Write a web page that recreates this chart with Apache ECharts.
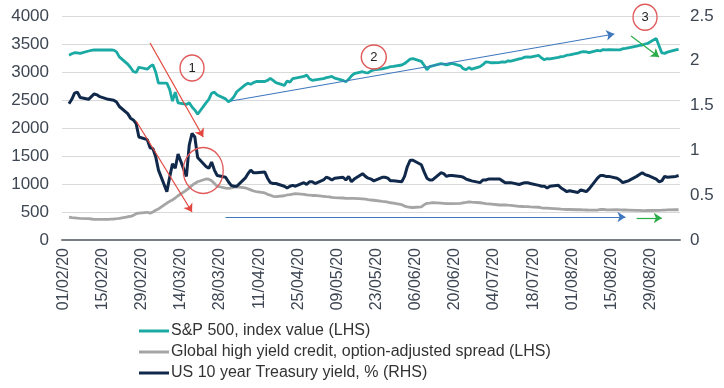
<!DOCTYPE html>
<html>
<head>
<meta charset="utf-8">
<script src="https://cdn.jsdelivr.net/npm/echarts@6/dist/echarts.min.js"></script>
<style>
html,body{margin:0;padding:0;background:#fff;}
#chart{width:724px;height:388px;}
</style>
</head>
<body>
<div id="chart"></div>
<script>
// Calendar axis: 01/02/2020 .. 08/09/2020 (daily), values on weekdays only
const startDateUTC = Date.UTC(2020, 1, 1);
const dayCount = 221;

// S&P 500 index value (LHS), weekdays, week by week
const spx = [
  3300,3325,3345,3340,3333,
  3375,3385,3393,3393,3393,
  3393,3393,3390,3360,3270,
  3140,3080,3010,2990,3085,
  3050,3100,3130,3000,2800,
  2800,2690,2480,2640,2450,
  2420,2450,2375,2320,2245,
  2450,2510,2620,2640,2590,
  2520,2470,2500,2560,2648,
  2770,2800,2780,2810,2830,
  2830,2850,2887,2850,2810,
  2760,2840,2820,2880,2890,
  2920,2946,2880,2850,2860,
  2880,2900,2910,2920,2890,
  2850,2827,2870,2930,2970,
  3005,2990,2985,3020,3036,
  3055,3070,3080,3095,3100,
  3125,3150,3190,3230,3240,
  3190,3120,3040,3095,3110,
  3150,3140,3125,3140,3155,
  3110,3060,3040,3080,3050,
  3095,3130,3180,3175,3165,
  3170,3180,3175,3200,3195,
  3235,3245,3265,3270,3265,
  3295,3250,3220,3240,3235,
  3260,3275,3280,3300,3305,
  3335,3355,3363,3360,3345,
  3385,3375,3400,3395,3400,
  3395,3395,3415,3420,3430,
  3460,3475,3482,3500,3512,
  3600,3470,3340,3333,3355,
  3395,3405
];

// Global high yield credit OAS (LHS)
const hySpread = [
  410,400,395,390,387,
  380,375,370,369,369,
  369,372,375,380,387,
  415,420,440,470,480,
  495,480,500,530,555,
  660,690,715,750,790,
  890,930,975,1010,1040,
  1090,1085,1060,1010,960,
  925,920,930,945,950,
  930,915,895,875,865,
  840,815,800,780,775,
  790,804,810,820,830,
  815,804,800,795,795,
  780,774,770,760,755,
  750,745,745,744,744,
  735,728,720,714,710,
  690,685,675,665,660,
  630,605,590,585,580,
  590,630,655,660,666,
  660,655,650,650,650,
  655,665,670,680,675,
  665,660,650,645,640,
  625,625,625,622,620,
  600,598,595,595,592,
  585,575,570,568,566,
  555,550,548,545,545,
  540,540,538,536,532,
  535,545,545,540,538,
  540,538,536,536,535,
  530,528,525,525,527,
  528,530,532,535,538,
  540,540
];

// US 10 year Treasury yield, % (RHS)
const ust10 = [
  1.52,1.57,1.64,1.65,1.59,
  1.57,1.60,1.63,1.62,1.60,
  1.57,1.565,1.56,1.54,1.49,
  1.41,1.36,1.34,1.30,1.15,
  1.12,1.03,1.02,0.93,0.78,
  0.54,0.70,0.85,0.80,0.96,
  0.71,1.06,1.19,1.15,0.92,
  0.82,0.80,0.87,0.78,0.72,
  0.70,0.65,0.61,0.60,0.60,
  0.69,0.74,0.78,0.75,0.75,
  0.76,0.69,0.64,0.63,0.63,
  0.60,0.58,0.60,0.61,0.60,
  0.64,0.62,0.65,0.65,0.63,
  0.67,0.70,0.69,0.67,0.69,
  0.70,0.67,0.71,0.65,0.68,
  0.74,0.71,0.69,0.68,0.66,
  0.70,0.70,0.69,0.66,0.66,
  0.65,0.71,0.82,0.89,0.89,
  0.84,0.76,0.69,0.67,0.67,
  0.75,0.74,0.71,0.72,0.72,
  0.71,0.70,0.68,0.67,0.66,
  0.64,0.67,0.67,0.68,0.68,
  0.68,0.66,0.64,0.64,0.64,
  0.62,0.63,0.64,0.64,0.63,
  0.61,0.60,0.60,0.58,0.60,
  0.61,0.58,0.56,0.54,0.55,
  0.53,0.56,0.55,0.54,0.57,
  0.69,0.72,0.72,0.71,0.71,
  0.69,0.67,0.64,0.65,0.66,
  0.71,0.73,0.75,0.73,0.72,
  0.68,0.65,0.66,0.71,0.70,
  0.71,0.72
];

const seriesNames = [
  'S&P 500, index value (LHS)',
  'Global high yield credit, option-adjusted spread (LHS)',
  'US 10 year Treasury yield, % (RHS)'
];
const leftTicks = {min: 0, max: 4000, interval: 500};
const rightTicks = {min: 0, max: 2.5, interval: 0.5};

// Annotation arrows (day index, LHS value) and circles
const arrows = [
  {from: [31, 3518], to: [50, 1840], color: '#e2463f'},
  {from: [26, 2125], to: [46, 500], color: '#e2463f'},
  {from: [60, 2482], to: [197, 3679], color: '#3f78bd'},
  {from: [58, 411], to: [201, 411], color: '#3f78bd'},
  {from: [203, 3643], to: [213, 3268], color: '#2aac48'},
  {from: [205, 393], to: [214, 393], color: '#2aac48'}
];
const circles = [
  {at: [46, 3071], size: [24, 26], text: '1'},
  {at: [111, 3268], size: [25, 24], text: '2'},
  {at: [208, 3977], size: [24, 26], text: '3'},
  {at: [50, 1241], size: [40, 46], text: ''}
];

// Build category labels
const categories = [];
const isWeekday = [];
for (let i = 0; i < dayCount; i++) {
  const d = new Date(startDateUTC + i * 86400000);
  const dd = String(d.getUTCDate()).padStart(2, '0');
  const mm = String(d.getUTCMonth() + 1).padStart(2, '0');
  const yy = String(d.getUTCFullYear()).slice(2);
  categories.push(dd + '/' + mm + '/' + yy);
  const dow = d.getUTCDay();
  isWeekday.push(dow !== 0 && dow !== 6);
}
function placeOnCalendar(values) {
  const out = [];
  let k = 0;
  for (let i = 0; i < dayCount; i++) {
    if (isWeekday[i] && k < values.length) { out.push(values[k]); k++; }
    else out.push(null);
  }
  return out;
}

const chart = echarts.init(document.getElementById('chart'), null, {renderer: 'canvas'});
const font = 'Liberation Sans, Arial, sans-serif';
chart.setOption({
  animation: false,
  textStyle: {fontFamily: font},
  grid: {left: 62, right: 44, top: 16, bottom: 148, containLabel: false},
  legend: {
    orient: 'vertical',
    left: 134, top: 318,
    itemWidth: 30, itemHeight: 3, itemGap: 5,
    icon: 'rect',
    textStyle: {fontSize: 16, color: '#333', fontFamily: font, lineHeight: 16, padding: [0, 0, 0, -3]},
    data: seriesNames
  },
  xAxis: {
    type: 'category',
    data: categories,
    axisLine: {lineStyle: {color: '#7a7f85', width: 2}},
    axisTick: {show: false},
    axisLabel: {
      interval: 13, rotate: 90, fontSize: 16, color: '#3d4652', margin: 8, fontFamily: font
    },
    splitLine: {show: false}
  },
  yAxis: [
    {
      type: 'value', min: leftTicks.min, max: leftTicks.max, interval: leftTicks.interval,
      axisLine: {show: false}, axisTick: {show: false},
      axisLabel: {fontSize: 17, color: '#3d4652', margin: 13, formatter: v => String(v), fontFamily: font},
      splitLine: {lineStyle: {color: '#d9d9d9', width: 1}}
    },
    {
      type: 'value', min: rightTicks.min, max: rightTicks.max, interval: rightTicks.interval,
      position: 'right',
      axisLine: {show: false}, axisTick: {show: false},
      axisLabel: {fontSize: 17, color: '#3d4652', margin: 10, formatter: v => String(v), fontFamily: font},
      splitLine: {show: false}
    }
  ],
  series: [
    {
      name: seriesNames[0], type: 'line', yAxisIndex: 0, z: 3,
      data: placeOnCalendar(spx), connectNulls: true,
      symbol: 'none', color: '#1aa9a3',
      lineStyle: {width: 2.8, color: '#1aa9a3'},
      markLine: {
        silent: true, symbol: ['none', 'arrow'], symbolSize: 8, animation: false,
        label: {show: false},
        data: arrows.map(a => [
          {coord: [categories[a.from[0]], a.from[1]], lineStyle: {color: a.color, width: 1.2, type: 'solid'}},
          {coord: [categories[a.to[0]], a.to[1]]}
        ])
      },
      markPoint: {
        silent: true, animation: false,
        data: circles.map(c => ({
          coord: [categories[c.at[0]], c.at[1]],
          symbol: 'circle', symbolSize: c.size,
          itemStyle: {color: 'rgba(255,255,255,0)', borderColor: '#e05a5a', borderWidth: 1.4},
          label: {show: true, position: 'inside', formatter: c.text, color: '#222', fontSize: 13, fontFamily: font}
        }))
      }
    },
    {
      name: seriesNames[1], type: 'line', yAxisIndex: 0, z: 2,
      data: placeOnCalendar(hySpread), connectNulls: true,
      symbol: 'none', color: '#a5a5a5',
      lineStyle: {width: 2.8, color: '#a5a5a5'}
    },
    {
      name: seriesNames[2], type: 'line', yAxisIndex: 1, z: 2,
      data: placeOnCalendar(ust10), connectNulls: true,
      symbol: 'none', color: '#10284a',
      lineStyle: {width: 3, color: '#10284a'}
    }
  ]
});
</script>
</body>
</html>
